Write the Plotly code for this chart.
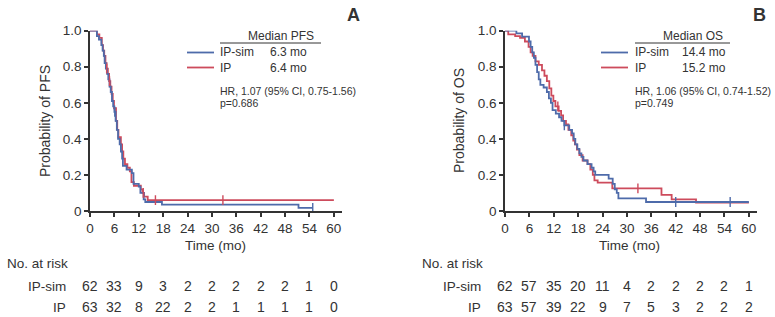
import plotly.graph_objects as go

W, H = 775, 317
FONT = "Liberation Sans, Arial, sans-serif"
TXT = "#333333"
BLUE = "#4E6BAA"
RED = "#CD4B5C"

# ---------------- data ----------------
# PFS (panel A) step curves: event times and survival after each step
pfs_sim_t = [0, 1.7, 2.2, 2.8, 3.1, 3.4, 3.6, 3.9, 4.2, 4.5, 4.8, 5.1, 5.4, 5.7, 6.0, 6.3, 6.6, 6.9,
             7.3, 7.6, 7.9, 8.1, 9.0, 10.3, 10.7, 12.0, 12.4, 13.2, 13.6, 17.7, 51.3, 54.8]
pfs_sim_s = [1.0, 0.97, 0.95, 0.92, 0.89, 0.86, 0.82, 0.79, 0.76, 0.73, 0.69, 0.66, 0.61, 0.58, 0.55, 0.50, 0.45, 0.40,
             0.37, 0.33, 0.29, 0.25, 0.23, 0.21, 0.15, 0.135, 0.10, 0.065, 0.05, 0.035, 0.017, 0.017]
pfs_ip_t = [0, 1.7, 2.3, 2.9, 3.2, 3.5, 3.8, 4.1, 4.4, 4.7, 5.0, 5.3, 5.6, 5.9, 6.4, 6.7, 7.0, 7.6, 7.9,
            8.2, 8.6, 9.2, 9.8, 10.2, 10.8, 12.5, 12.9, 13.3, 14.2, 60]
pfs_ip_s = [1.0, 0.98, 0.96, 0.92, 0.89, 0.86, 0.82, 0.79, 0.76, 0.72, 0.69, 0.65, 0.61, 0.57, 0.50, 0.45, 0.41, 0.37, 0.33,
            0.29, 0.26, 0.24, 0.22, 0.16, 0.14, 0.12, 0.10, 0.08, 0.06, 0.06]
pfs_sim_cens = [6.1, 54.8]
pfs_ip_cens = [4.1, 4.8, 13.1, 16.1, 32.7]

# OS (panel B)
os_sim_t = [0, 2.8, 4.2, 5.9, 6.3, 6.7, 7.1, 7.5, 7.9, 8.3, 8.7, 9.5, 10.3, 10.8, 11.3, 11.7, 12.5, 13.3, 13.9,
            14.6, 15.8, 16.5, 16.9, 17.3, 17.8, 18.3, 18.8, 19.3, 20.3, 21.3, 21.8, 22.2, 25.5, 26.5, 27.0,
            27.5, 27.9, 34.7, 60]
os_sim_s = [1.0, 0.985, 0.967, 0.94, 0.91, 0.88, 0.85, 0.81, 0.77, 0.73, 0.70, 0.685, 0.66, 0.625, 0.60, 0.56, 0.54, 0.52, 0.50,
            0.475, 0.45, 0.43, 0.40, 0.37, 0.345, 0.32, 0.30, 0.28, 0.26, 0.24, 0.22, 0.20, 0.18, 0.15, 0.12,
            0.10, 0.07, 0.05, 0.05]
os_ip_t = [0, 0.8, 2.5, 3.7, 4.9, 5.8, 6.3, 6.8, 7.5, 8.3, 9.1, 9.7, 10.3, 10.9, 11.4, 11.9, 12.4, 13.2, 13.8,
           14.3, 15.0, 15.6, 16.3, 16.8, 17.2, 17.7, 18.3, 19.1, 20.3, 21.0, 21.6, 22.0, 22.8, 26.4, 38.5,
           41.0, 47.0, 60]
os_ip_s = [1.0, 0.98, 0.97, 0.96, 0.94, 0.91, 0.88, 0.86, 0.83, 0.81, 0.78, 0.75, 0.72, 0.68, 0.64, 0.61, 0.58, 0.555, 0.53,
           0.50, 0.48, 0.45, 0.42, 0.39, 0.37, 0.34, 0.31, 0.28, 0.26, 0.23, 0.20, 0.17, 0.157, 0.126, 0.089,
           0.065, 0.046, 0.046]
os_sim_cens = [14.6, 42.0, 55.4]
os_ip_cens = [13.0, 32.7]

risk_times = [0, 6, 12, 18, 24, 30, 36, 42, 48, 54, 60]
pfs_risk_sim = [62, 33, 9, 3, 2, 2, 2, 2, 2, 1, 0]
pfs_risk_ip = [63, 32, 8, 22, 2, 2, 1, 1, 1, 1, 0]
os_risk_sim = [62, 57, 35, 20, 11, 4, 2, 2, 2, 2, 1]
os_risk_ip = [63, 57, 39, 22, 9, 7, 5, 3, 2, 2, 2]

x_ticks = [0, 6, 12, 18, 24, 30, 36, 42, 48, 54, 60]
y_ticks = [0, 0.2, 0.4, 0.6, 0.8, 1.0]
y_ticklabels = ["0", "0.2", "0.4", "0.6", "0.8", "1.0"]


def step_at(ts, ss, t):
    v = ss[0]
    for a, b in zip(ts, ss):
        if a <= t:
            v = b
    return v


def px(x):
    return x / W


def py(y):
    return 1 - y / H


fig = go.Figure()

panels = [
    ("x", "y", pfs_sim_t, pfs_sim_s, pfs_ip_t, pfs_ip_s, pfs_sim_cens, pfs_ip_cens),
    ("x2", "y2", os_sim_t, os_sim_s, os_ip_t, os_ip_s, os_sim_cens, os_ip_cens),
]
for xa, ya, st, ss, it, iss, sc, ic in panels:
    fig.add_trace(go.Scatter(x=it, y=iss, mode="lines", line=dict(color=RED, width=1.8, shape="hv"),
                             xaxis=xa, yaxis=ya, showlegend=False, hoverinfo="skip"))
    fig.add_trace(go.Scatter(x=st, y=ss, mode="lines", line=dict(color=BLUE, width=1.8, shape="hv"),
                             xaxis=xa, yaxis=ya, showlegend=False, hoverinfo="skip"))
    fig.add_trace(go.Scatter(x=ic, y=[step_at(it, iss, t) for t in ic], mode="markers",
                             marker=dict(symbol="line-ns-open", size=7, color=RED, line=dict(color=RED, width=1.4)),
                             xaxis=xa, yaxis=ya, showlegend=False, hoverinfo="skip"))
    fig.add_trace(go.Scatter(x=sc, y=[step_at(st, ss, t) for t in sc], mode="markers",
                             marker=dict(symbol="line-ns-open", size=7, color=BLUE, line=dict(color=BLUE, width=1.4)),
                             xaxis=xa, yaxis=ya, showlegend=False, hoverinfo="skip"))

x_dom1 = [px(90), px(342)]
x_dom2 = [px(505), px(757)]
y_dom = [py(211), py(30.7)]

axis_common = dict(showline=True, linecolor="#333333", linewidth=1.5, ticks="outside", ticklen=4,
                   tickwidth=1.5, tickcolor="#333333", showgrid=False, zeroline=False, automargin=False,
                   tickfont=dict(family=FONT, size=13.5, color=TXT), fixedrange=True)

fig.update_layout(
    template="none",
    width=W, height=H, margin=dict(l=0, r=0, t=0, b=0, autoexpand=False),
    paper_bgcolor="white", plot_bgcolor="white",
    xaxis=dict(domain=x_dom1, range=[0, 62], tickvals=x_ticks, anchor="y", **axis_common),
    yaxis=dict(domain=y_dom, range=[0, 1.0], tickvals=y_ticks, ticktext=y_ticklabels, anchor="x", **axis_common),
    xaxis2=dict(domain=x_dom2, range=[0, 62], tickvals=x_ticks, anchor="y2", **axis_common),
    yaxis2=dict(domain=y_dom, range=[0, 1.0], tickvals=y_ticks, ticktext=y_ticklabels, anchor="x2", **axis_common),
)

ann = []
shapes = []


def text(x, y, s, size=14, xanchor="left", xref="paper", bold=False, angle=0):
    ann.append(dict(x=x, y=y, xref=xref, yref="paper", text=("<b>%s</b>" % s if bold else s),
                    showarrow=False, xanchor=xanchor, yanchor="middle", textangle=angle,
                    font=dict(family=FONT, size=size, color=TXT)))


def panel_text(x0, letter, ylab, header, sim_med, ip_med, hr, pval, lx0, tx0, hx0, hx1, medx, risk_sim, risk_ip,
               xref, nx, labx):
    text(px(letter[0]), py(15), letter[1], size=18, xanchor="center", bold=True)
    text(px(x0), py(121), ylab, size=14, xanchor="center", angle=-90)
    text(px((hx0 + hx1) / 2 + 10), py(36), header, size=12, xanchor="center")
    shapes.append(dict(type="line", xref="paper", yref="paper", x0=px(hx0), x1=px(hx1), y0=py(43), y1=py(43),
                       line=dict(color="#333333", width=1)))
    shapes.append(dict(type="line", xref="paper", yref="paper", x0=px(lx0), x1=px(lx0 + 27), y0=py(52.5), y1=py(52.5),
                       line=dict(color=BLUE, width=1.8)))
    shapes.append(dict(type="line", xref="paper", yref="paper", x0=px(lx0), x1=px(lx0 + 27), y0=py(67.5), y1=py(67.5),
                       line=dict(color=RED, width=1.8)))
    text(px(tx0), py(52.5), "IP-sim", size=12)
    text(px(tx0), py(67.5), "IP", size=12)
    text(px(medx), py(52.5), sim_med, size=12)
    text(px(medx), py(67.5), ip_med, size=12)
    text(px(tx0), py(90.5), hr, size=10.5)
    text(px(tx0), py(103), pval, size=10.5)
    text(px(nx), py(263), "No. at risk", size=13.5, xanchor="center")
    text(px(labx), py(286), "IP-sim", size=13.5, xanchor="right")
    text(px(labx), py(307), "IP", size=13.5, xanchor="right")
    for t, a, b in zip(risk_times, risk_sim, risk_ip):
        ann.append(dict(x=t, y=py(286), xref=xref, yref="paper", text=str(a), showarrow=False,
                        xanchor="center", yanchor="middle", font=dict(family=FONT, size=14, color=TXT)))
        ann.append(dict(x=t, y=py(307), xref=xref, yref="paper", text=str(b), showarrow=False,
                        xanchor="center", yanchor="middle", font=dict(family=FONT, size=14, color=TXT)))


panel_text(45, (353, "A"), "Probability of PFS", "Median PFS", "6.3 mo", "6.4 mo",
           "HR, 1.07 (95% CI, 0.75-1.56)", "p=0.686", 187, 218, 220, 321, 268,
           pfs_risk_sim, pfs_risk_ip, "x", 37, 68)
panel_text(459, (759, "B"), "Probability of OS", "Median OS", "14.4 mo", "15.2 mo",
           "HR, 1.06 (95% CI, 0.74-1.52)", "p=0.749", 601, 633, 635, 730, 680,
           os_risk_sim, os_risk_ip, "x2", 452, 483)

text(px(215), py(245), "Time (mo)", size=13.5, xanchor="center")
text(px(629), py(245), "Time (mo)", size=13.5, xanchor="center")

fig.update_layout(annotations=ann, shapes=shapes)
fig.write_html("out.html", config={"displayModeBar": False},
               post_script="document.body.style.margin='0';")
